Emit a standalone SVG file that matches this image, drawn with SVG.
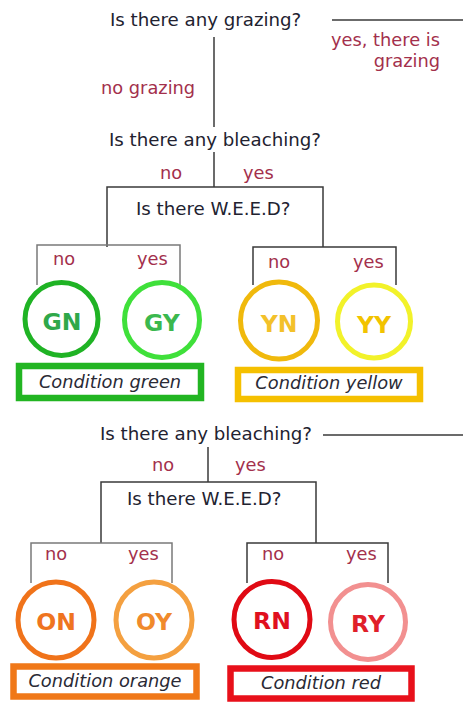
<svg xmlns="http://www.w3.org/2000/svg" width="463" height="702" viewBox="0 0 463 702">
  <style>
    text { font-family: "DejaVu Sans", Verdana, sans-serif; }
    .q { font-size: 18.2px; fill: #222230; }
    .lbl { font-size: 17.8px; fill: #a3304c; }
    .code { font-size: 23.5px; font-weight: bold; text-anchor: middle; }
    .cond { font-size: 17.8px; font-style: italic; fill: #2a2a35; text-anchor: middle; }
    .ln { fill: none; stroke: #3a3a3a; stroke-width: 1.5; }
    .ln-light { fill: none; stroke: #7a7a7a; stroke-width: 1.5; }
    .ring { fill: none; stroke-width: 5; }
    .box { fill: #ffffff; stroke-width: 6.5; }
  </style>

  <rect width="463" height="702" fill="#ffffff"/>

  <!-- connectors -->
  <g id="connectors">
    <line class="ln" x1="332" y1="20" x2="463" y2="20" stroke-width="2"/>
    <line class="ln" x1="214" y1="37" x2="214" y2="127"/>
    <line class="ln" x1="214" y1="152" x2="214" y2="187"/>
    <path class="ln" d="M107,247 V187 H323 V247"/>
    <path class="ln-light" d="M37,285 V245 H180 V285"/>
    <path class="ln" d="M253,285 V247 H396 V285"/>

    <line class="ln" x1="323" y1="435" x2="463" y2="435" stroke="#555" stroke-width="1.2"/>
    <line class="ln" x1="208" y1="447" x2="208" y2="482"/>
    <path class="ln" d="M101,543 V482 H316 V543"/>
    <path class="ln-light" d="M31,583 V543 H172 V583"/>
    <path class="ln" d="M247,583 V543 H388 V583"/>
  </g>

  <!-- questions and branch labels -->
  <g id="q-grazing">
    <text class="q" x="110" y="26">Is there any grazing?</text>
    <text class="lbl" x="440" y="46" text-anchor="end">yes, there is</text>
    <text class="lbl" x="440" y="67" text-anchor="end">grazing</text>
    <text class="lbl" x="101" y="94">no grazing</text>
  </g>

  <g id="q-bleaching-1">
    <text class="q" x="109" y="146">Is there any bleaching?</text>
    <text class="lbl" x="160" y="179">no</text>
    <text class="lbl" x="243" y="179">yes</text>
  </g>

  <g id="q-weed-1">
    <text class="q" x="136" y="215">Is there W.E.E.D?</text>
    <text class="lbl" x="53" y="265">no</text>
    <text class="lbl" x="137" y="265">yes</text>
    <text class="lbl" x="268" y="268">no</text>
    <text class="lbl" x="353" y="268">yes</text>
  </g>

  <g id="q-bleaching-2">
    <text class="q" x="100" y="440">Is there any bleaching?</text>
    <text class="lbl" x="152" y="471">no</text>
    <text class="lbl" x="235" y="471">yes</text>
  </g>

  <g id="q-weed-2">
    <text class="q" x="127" y="505">Is there W.E.E.D?</text>
    <text class="lbl" x="45" y="560">no</text>
    <text class="lbl" x="128" y="560">yes</text>
    <text class="lbl" x="262" y="560">no</text>
    <text class="lbl" x="346" y="560">yes</text>
  </g>

  <!-- outcome rings -->
  <g id="GN">
    <circle class="ring" cx="61.5" cy="319" r="36.5" stroke="#1fb324"/>
    <text class="code" x="62" y="330" fill="#2fa84a">GN</text>
  </g>
  <g id="GY">
    <circle class="ring" cx="162" cy="320" r="37.5" stroke="#3fe03a"/>
    <text class="code" x="162" y="331" fill="#3bb84e">GY</text>
  </g>
  <g id="YN">
    <circle class="ring" cx="279" cy="320.5" r="38.5" stroke="#f0b90c"/>
    <text class="code" x="279" y="332" fill="#f3c12a">YN</text>
  </g>
  <g id="YY">
    <circle class="ring" cx="374" cy="321.5" r="36.5" stroke="#f2f22a" stroke-width="4.5"/>
    <text class="code" x="374" y="333" fill="#f2c300">YY</text>
  </g>
  <g id="ON">
    <circle class="ring" cx="56" cy="620" r="38" stroke="#f0731a" stroke-width="6"/>
    <text class="code" x="56" y="630" fill="#ef7420">ON</text>
  </g>
  <g id="OY">
    <circle class="ring" cx="154" cy="620" r="38" stroke="#f4a040"/>
    <text class="code" x="154" y="630" fill="#f08a2c">OY</text>
  </g>
  <g id="RN">
    <circle class="ring" cx="272" cy="619.5" r="38" stroke="#e00a14"/>
    <text class="code" x="272" y="629" fill="#e0101e">RN</text>
  </g>
  <g id="RY">
    <circle class="ring" cx="368" cy="622" r="37.5" stroke="#f29090"/>
    <text class="code" x="368" y="632" fill="#e0202a">RY</text>
  </g>

  <!-- condition boxes -->
  <g id="cond-green">
    <rect class="box" x="19" y="366" width="182" height="32" stroke="#22b522"/>
    <text class="cond" x="110" y="388">Condition green</text>
  </g>
  <g id="cond-yellow">
    <rect class="box" x="238" y="370" width="182" height="29" stroke="#f5c000"/>
    <text class="cond" x="329" y="389">Condition yellow</text>
  </g>
  <g id="cond-orange">
    <rect class="box" x="13.5" y="666.5" width="183" height="30" stroke="#f07818" stroke-width="7"/>
    <text class="cond" x="105" y="687">Condition orange</text>
  </g>
  <g id="cond-red">
    <rect class="box" x="230.5" y="668.5" width="181" height="30" stroke="#e8101a" stroke-width="7"/>
    <text class="cond" x="321" y="689">Condition red</text>
  </g>
</svg>
